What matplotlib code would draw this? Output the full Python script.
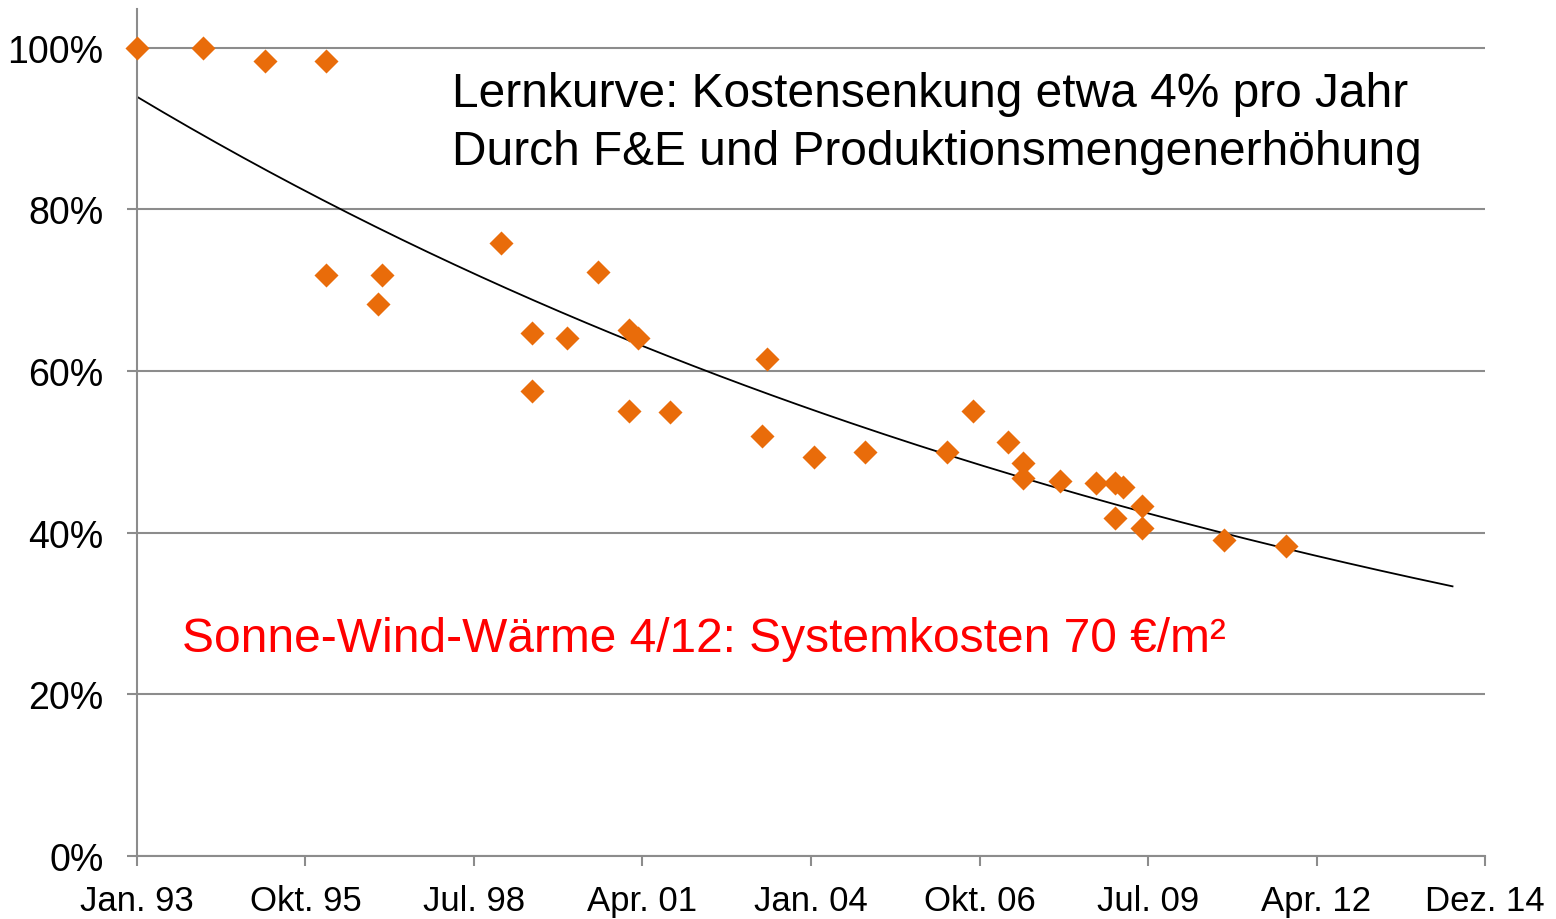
import numpy as np
import matplotlib.pyplot as plt

# data (decimal years, cost in % of 1993)
years = [1993.00, 1994.07, 1995.08, 1996.08, 1996.08, 1997.00, 1996.93,
         1998.93, 1999.43, 1999.43, 2000.00, 2000.51, 2001.01, 2001.16,
         2001.01, 2001.68, 2003.18, 2003.26, 2004.03, 2004.86, 2006.19,
         2006.62, 2007.19, 2007.43, 2007.43, 2008.03, 2008.62, 2008.94,
         2009.06, 2008.94, 2009.37, 2009.37, 2010.70, 2011.71]
cost = [100.0, 100.0, 98.4, 98.4, 71.9, 71.9, 68.3,
        75.9, 64.7, 57.5, 64.1, 72.3, 65.1, 64.1,
        55.1, 54.9, 52.0, 61.5, 49.4, 50.0, 50.0,
        55.1, 51.2, 48.6, 46.8, 46.4, 46.2, 46.2,
        45.7, 41.8, 43.3, 40.6, 39.1, 38.4]

x_start = 1993.0
x_end = 2014.96
trend_end = 2014.43
tick_labels = ['Jan. 93', 'Okt. 95', 'Jul. 98', 'Apr. 01', 'Jan. 04',
               'Okt. 06', 'Jul. 09', 'Apr. 12', 'Dez. 14']
y_ticks = [0, 20, 40, 60, 80, 100]

line1 = 'Lernkurve: Kostensenkung etwa 4% pro Jahr'
line2 = 'Durch F&E und Produktionsmengenerhöhung'
note = 'Sonne-Wind-Wärme 4/12: Systemkosten 70 €/m²'

plt.rcParams['font.family'] = ['Liberation Sans', 'DejaVu Sans']

fig = plt.figure(figsize=(15.56, 9.2), dpi=100)
ax = fig.add_axes([0.0880, 0.0685, 0.8664, 0.9206])

# exponential trendline (least squares on log values, like Excel)
b, a = np.polyfit(np.array(years) - x_start, np.log(cost), 1)
xt = np.linspace(x_start, trend_end, 200)
ax.plot(xt, np.exp(a + b * (xt - x_start)), color='black', lw=1.3, zorder=2)

ax.scatter(years, cost, marker='D', s=150, color='#E96C0A', lw=0,
           zorder=3, clip_on=False)

ax.set_xlim(x_start, x_end)
ax.set_ylim(0, 104.8)
ax.set_yticks(y_ticks)
ax.set_yticklabels([f'{v}%' for v in y_ticks], fontsize=27)
ax.set_xticks(np.linspace(x_start, x_end, len(tick_labels)))
ax.set_xticklabels(tick_labels, fontsize=25)
ax.grid(axis='y', color='#8c8c8c', lw=1.5)
ax.set_axisbelow(True)
for s in ['top', 'right']:
    ax.spines[s].set_visible(False)
for s in ['left', 'bottom']:
    ax.spines[s].set_color('#8c8c8c')
    ax.spines[s].set_linewidth(1.5)
ax.tick_params(color='#8c8c8c', width=1.5, length=7)
ax.tick_params(axis='y', pad=17)
ax.tick_params(axis='x', pad=13)

ax.text(0.2337, 0.900, line1, transform=ax.transAxes, fontsize=34.5,
        va='center', ha='left')
ax.text(0.2337, 0.8315, line2, transform=ax.transAxes, fontsize=34.5,
        va='center', ha='left')
ax.text(0.0334, 0.257, note, transform=ax.transAxes, fontsize=34.5,
        va='center', ha='left', color='#FF0000')

fig.savefig('out.png', dpi=100)
